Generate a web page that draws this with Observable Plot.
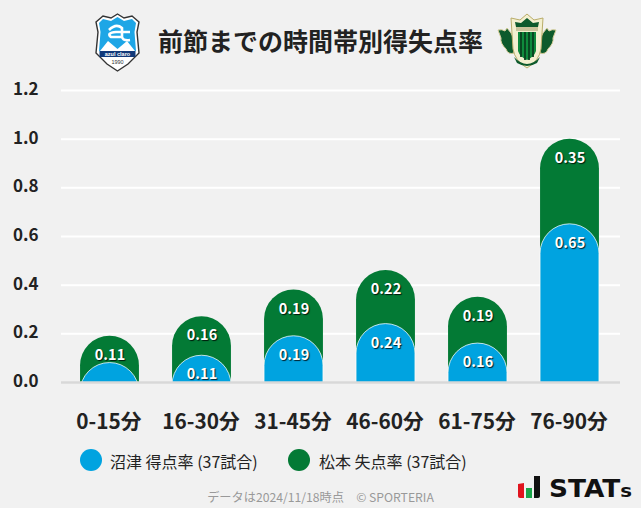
<!DOCTYPE html>
<html lang="ja">
<head>
<meta charset="utf-8">
<script src="https://cdn.jsdelivr.net/npm/d3@7"></script>
<script src="https://cdn.jsdelivr.net/npm/@observablehq/plot@0.6"></script>
<style>
html,body{margin:0;padding:0;background:#f1f1f1;}
body{width:641px;height:508px;position:relative;overflow:hidden;font-family:"Noto Sans CJK JP","Noto Sans",sans-serif;color:#222;}
#head{position:relative;height:70px;}
#title{position:absolute;left:0;width:641px;top:20px;text-align:center;font-size:25px;line-height:40px;font-weight:700;color:#222;}
#head svg{position:absolute;}
#chart svg{display:block;background:transparent;}
#chart g[aria-label="text"] text{text-shadow:1px 1px 1px rgba(0,0,0,.8);}
#legend{position:absolute;left:0;top:447px;height:28px;width:641px;font-size:16px;line-height:28px;color:#222;}
#legend .d{position:absolute;top:2px;width:22px;height:22px;border-radius:50%;}
#legend .t{position:absolute;top:0;white-space:nowrap;}
#cap{position:absolute;left:0;width:641px;top:487px;text-align:center;font-size:12.2px;line-height:20px;color:#999;}
#stats{position:absolute;left:516px;top:474px;}
</style>
</head>
<body>
<div id="head">
<svg style="left:95px;top:13px" width="45" height="59" viewBox="0 0 45 59">
<path d="M22.5 1 L29 5 L37 3 L44 9 L42 19 L44 40 L33 51 L22.5 58 L12 51 L1 40 L3 19 L1 9 L8 3 L16 5Z" fill="#fff" stroke="#333" stroke-width="1.4"/>
<path d="M22.5 4 L29 8 L37 6 L41 10 L39.5 19 L41 38 L4 38 L5.5 19 L4 10 L8 6 L16 8Z" fill="#1ea6e6"/>
<path d="M5 38 L13 28 L22.5 36 L32 28 L40 38Z" fill="#fff"/>
<path d="M14 17 Q21 10 27 15 L27 24 L16 24 Q11 20 21 19 L35 19 M27 24 Q28 28 35 27" fill="none" stroke="#fff" stroke-width="2.6"/>
<rect x="4.5" y="38" width="36" height="6" fill="#123a7a"/>
<text x="22.5" y="43" text-anchor="middle" font-size="5.5" font-weight="700" fill="#fff" font-family="Liberation Sans">azul claro</text>
<text x="22.5" y="50.5" text-anchor="middle" font-size="5.5" fill="#333" font-family="Liberation Sans">1990</text>
</svg>
<div id="title">前節までの時間帯別得失点率</div>
<svg style="left:497px;top:13px" width="60" height="57" viewBox="0 0 60 57">
<path d="M1 17 Q5 16 8 18 L10 15 L14 20 L17 26 L17 40 Q11 42 9 36 Q3 30 4 25Z M59 17 Q55 16 52 18 L50 15 L46 20 L43 26 L43 40 Q49 42 51 36 Q57 30 56 25Z" fill="#0d5a2c" stroke="#d8cf9a" stroke-width="1"/>
<path d="M30 1 L37 7 L46 5 L44 36 Q42 48 30 55 Q18 48 16 36 L14 5 L23 7Z" fill="#f3efcf" stroke="#b9ad6a" stroke-width="1"/>
<path d="M30 5 L36 10 L42 9 L41 14 L19 14 L18 9 L24 10Z" fill="#0d5a2c"/>
<path d="M21 19 L39 19 L39 38 Q37 44 30 47 Q23 44 21 38Z" fill="#0f8a3c"/>
<path d="M24 19V44M28 19V47M32 19V47M36 19V44" stroke="#08401f" stroke-width="1.8"/>
<rect x="19" y="14" width="22" height="4" fill="#c9c39a"/>
<path d="M17 44 Q30 58 43 44 L40 50 Q30 56 20 50Z" fill="#0d5a2c"/>
</svg>
</div>
<div id="chart"></div>
<div id="legend">
<span class="d" style="left:80px;background:#00a3e0"></span><span class="t" style="left:110px">沼津 得点率 (37試合)</span>
<span class="d" style="left:288px;background:#037a35"></span><span class="t" style="left:319px">松本 失点率 (37試合)</span>
</div>
<div id="cap">データは2024/11/18時点　© SPORTERIA</div>
<svg id="stats" width="120" height="28" viewBox="0 0 120 28">
<path d="M2 10 L8 9 V24 H4 Q2 24 2 22Z" fill="#e0141e"/>
<rect x="10" y="14" width="6" height="10" fill="#1aa54a"/>
<path d="M18 2 H24 V22 Q24 24 22 24 H18Z" fill="#111"/>
<text x="33" y="23" font-family="DejaVu Sans" font-weight="700" font-size="24" textLength="83" lengthAdjust="spacingAndGlyphs" fill="#111">STAT<tspan font-size="18">s</tspan></text>
</svg>
<script>
const periods = ["0-15分","16-30分","31-45分","46-60分","61-75分","76-90分"];
const scored = [0.08,0.11,0.19,0.24,0.16,0.65];
const conceded = [0.11,0.16,0.19,0.22,0.19,0.35];
const scoredLabels = ["","0.11","0.19","0.24","0.16","0.65"];
const concededLabels = ["0.11","0.16","0.19","0.22","0.19","0.35"];
const yTicks = [0,0.2,0.4,0.6,0.8,1.0,1.2];
const blue = "#00a3e0", green = "#037a35";
const rows = periods.map((p,i)=>({p,s:scored[i],c:conceded[i],total:scored[i]+conceded[i],sl:scoredLabels[i],cl:concededLabels[i]}));
const cap = 29.5;
const plot = Plot.plot({
  width:641,height:370,
  marginTop:20,marginBottom:58,marginLeft:61,marginRight:21,
  x:{type:"band",domain:periods,range:[63.5,615.5],paddingInner:0.36,paddingOuter:0.18,round:false,label:null},
  y:{domain:[0,1.2],label:null},
  style:{background:"transparent",fontFamily:"'Noto Sans CJK JP','Noto Sans',sans-serif"},
  marks:[
    Plot.ruleY(yTicks.slice(1),{stroke:"#fff",strokeWidth:2}),
    Plot.barY(rows,{x:"p",y1:()=>-0.3,y2:"total",fill:green,rx:cap,ry:cap,clip:true}),
    Plot.barY(rows,{x:"p",y1:()=>-0.3,y2:"s",fill:blue,stroke:"#fff",strokeOpacity:0.75,strokeWidth:1,rx:cap,ry:cap,clip:true}),
    Plot.ruleY([0],{stroke:"#d8d8d8",strokeWidth:2.5}),
    Plot.text(rows,{x:"p",y:"total",text:"cl",dy:19,fill:"#fff",fontSize:14.5,fontWeight:700}),
    Plot.text(rows,{x:"p",y:"s",text:"sl",dy:19,fill:"#fff",fontSize:14.5,fontWeight:700}),
    Plot.axisY(yTicks,{tickSize:0,tickPadding:23,dy:-1,tickFormat:d3.format(".1f"),fontSize:17,fontWeight:700,fill:"#222",label:null}),
    Plot.axisX({tickSize:0,tickPadding:31.5,dx:-1,fontSize:20.8,fontWeight:700,fill:"#222",label:null})
  ]
});
document.getElementById("chart").append(plot);
</script>
</body>
</html>
